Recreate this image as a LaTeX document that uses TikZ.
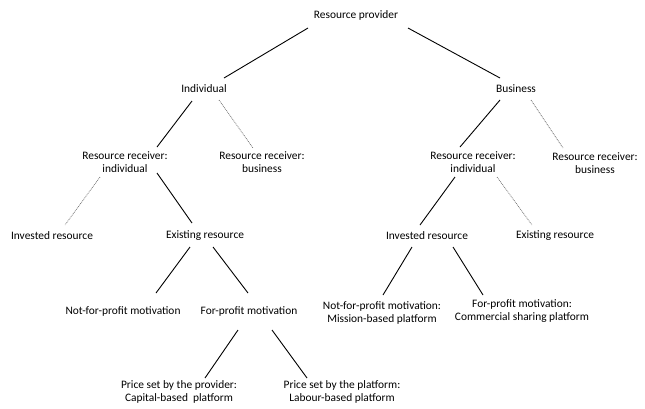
\documentclass[tikz,border=0pt]{standalone}
\usepackage{fontspec}
\setmainfont{Carlito}
\usetikzlibrary{calc}

\begin{document}
\begin{tikzpicture}[
            x = 1pt, y = -1pt, % one unit = one pixel of the sketch
            semithick, % line style
            every node/.style = {font = \fontsize{11.4}{12.8}\selectfont, align = center, inner sep = 0pt}
        ]

        \tikzstyle{branch}=[
            black,
            line width = 0.9pt
        ]
        \tikzstyle{minor}=[
            black!55,
            line width = 0.7pt,
            dash pattern = on 0.9pt off 0.9pt
        ]

        \useasboundingbox (0,0) rectangle (645,408);

        \node (rp) at (356,15) {Resource provider};
        \node (ind) at (204,89) {Individual};
        \node (bus) at (516,89) {Business};

        \node (rri) at (125,162) {Resource receiver:\\individual};
        \node (rrb) at (262,162) {Resource receiver:\\business};
        \node (rri2) at (473,162) {Resource receiver:\\individual};
        \node (rrb2) at (595,163) {Resource receiver:\\business};

        \node (inv) at (52,236) {Invested resource};
        \node (ex) at (205,236) {Existing resource};
        \node (inv2) at (427,236) {Invested resource};
        \node (ex2) at (555,236) {Existing resource};

        \node (nfp) at (123,311) {Not-for-profit motivation};
        \node (fp) at (249,311) {For-profit motivation};
        \node (nfp2) at (382,313) {Not-for-profit motivation:\\Mission-based platform};
        \node (fp2) at (522,311) {For-profit motivation:\\Commercial sharing platform};

        \node (pprov) at (179,392) {Price set by the provider:\\Capital-based\ \ platform};
        \node (pplat) at (342,392) {Price set by the platform:\\Labour-based platform};

        \draw[branch] ($(rp)+(-48,13)$) -- ($(ind)+(20,-11)$);
        \draw[branch] ($(rp)+(52,13)$) -- ($(bus)+(-16,-11)$);

        \draw[branch] ($(ind)+(-12,12)$) -- ($(rri)+(32,-15)$);
        \draw[minor] ($(ind)+(15,11)$) -- ($(rrb)+(-9,-14)$);
        \draw[branch] ($(bus)+(-16,11)$) -- ($(rri2)+(-13,-15)$);
        \draw[minor] ($(bus)+(15,11)$) -- ($(rrb2)+(-32,-15)$);

        \draw[minor] ($(rri)+(-25,15)$) -- ($(inv)+(13,-11)$);
        \draw[branch] ($(rri)+(32,11)$) -- ($(ex)+(-13,-13)$);
        \draw[branch] ($(rri2)+(-18,15)$) -- ($(inv2)+(-7,-11)$);
        \draw[minor] ($(rri2)+(24,15)$) -- ($(ex2)+(-23,-11)$);

        \draw[branch] ($(ex)+(-15,11)$) -- ($(nfp)+(33,-18)$);
        \draw[branch] ($(ex)+(8,11)$) -- ($(fp)+(-1,-18)$);
        \draw[branch] ($(inv2)+(-15,11)$) -- ($(nfp2)+(1,-18)$);
        \draw[branch] ($(inv2)+(26,11)$) -- ($(fp2)+(-39,-16)$);

        \draw[branch] ($(fp)+(-11,19)$) -- ($(pprov)+(26,-14)$);
        \draw[branch] ($(fp)+(23,19)$) -- ($(pplat)+(-35,-14)$);

    \end{tikzpicture}
\end{document}
